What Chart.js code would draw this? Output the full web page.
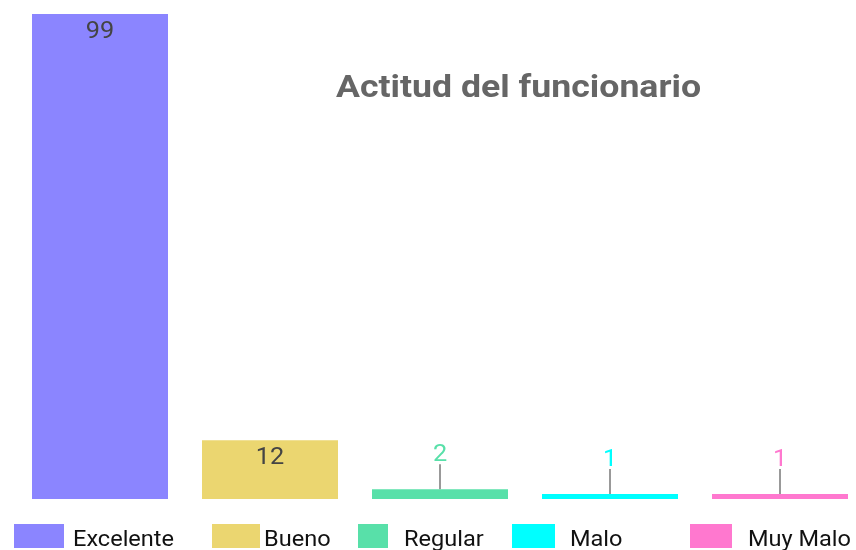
<!DOCTYPE html>
<html>
<head>
<meta charset="utf-8">
<script src="https://cdn.jsdelivr.net/npm/chart.js@4/dist/chart.umd.min.js"></script>
<style>
  html, body { margin: 0; padding: 0; overflow: hidden; background: #fff; width: 856px; height: 550px; }
  #wrap { position: absolute; left: 0; top: 0; width: 865px; height: 550px; }
  #legend { position: absolute; left: 0; top: 0; width: 856px; height: 550px; pointer-events: none; font-family: Roboto, sans-serif; overflow: hidden; }
  .lb { position: absolute; top: 524px; height: 24px; }
  .lt { position: absolute; top: 526px; font-size: 22px; line-height: 26px; color: #111; white-space: nowrap; transform: scaleX(1.07); transform-origin: left center; }
</style>
</head>
<body>
<div id="wrap"><canvas id="c" width="865" height="550"></canvas></div>
<div id="legend"></div>
<script>
const categories = ["Excelente", "Bueno", "Regular", "Malo", "Muy Malo"];
const values = [99, 12, 2, 1, 1];
const colors = ["#8b85ff", "#ebd670", "#58e0a9", "#00ffff", "#ff78cf"];
const chartTitle = "Actitud del funcionario";

// legend layout (box left, box width, text left)
const legendLayout = [
  [14, 50, 73],
  [212, 48, 264],
  [358, 30, 404],
  [512, 43, 570],
  [690, 42, 748]
];

const legendEl = document.getElementById('legend');
categories.forEach((name, i) => {
  const [bx, bw, tx] = legendLayout[i];
  const b = document.createElement('div');
  b.className = 'lb';
  b.style.left = bx + 'px';
  b.style.width = bw + 'px';
  b.style.background = colors[i];
  legendEl.appendChild(b);
  const t = document.createElement('div');
  t.className = 'lt';
  t.style.left = tx + 'px';
  t.textContent = name;
  legendEl.appendChild(t);
});

function stretchedText(ctx, txt, x, y, sx) {
  ctx.save();
  ctx.translate(x, y);
  ctx.scale(sx, 1);
  ctx.fillText(txt, 0, 0);
  ctx.restore();
}

const labelPlugin = {
  id: 'barLabels',
  afterDatasetsDraw(chart) {
    const ctx = chart.ctx;
    const meta = chart.getDatasetMeta(0);
    ctx.save();
    ctx.font = '23px Roboto, sans-serif';
    ctx.textAlign = 'center';
    ctx.textBaseline = 'middle';
    meta.data.forEach((bar, i) => {
      const h = bar.base - bar.y;
      const txt = String(values[i]);
      if (h > 30) {
        ctx.fillStyle = '#444444';
        stretchedText(ctx, txt, bar.x, bar.y + 18.5, 1.1);
      } else {
        ctx.strokeStyle = '#999999';
        ctx.lineWidth = 2;
        ctx.beginPath();
        ctx.moveTo(bar.x, bar.y);
        ctx.lineTo(bar.x, bar.y - 25);
        ctx.stroke();
        ctx.fillStyle = colors[i];
        stretchedText(ctx, txt, bar.x, bar.y - 34, 1.1);
      }
    });
    ctx.restore();
  }
};

const titlePlugin = {
  id: 'innerTitle',
  afterDraw(chart) {
    const ctx = chart.ctx;
    ctx.save();
    ctx.font = 'bold 31px Roboto, sans-serif';
    ctx.fillStyle = '#666666';
    ctx.textAlign = 'center';
    ctx.textBaseline = 'alphabetic';
    stretchedText(ctx, chartTitle, 518.5, 97, 1.15);
    ctx.restore();
  }
};

new Chart(document.getElementById('c'), {
  type: 'bar',
  data: {
    labels: categories,
    datasets: [{
      data: values,
      backgroundColor: colors,
      borderWidth: 0,
      categoryPercentage: 1.0,
      barPercentage: 0.8
    }]
  },
  options: {
    responsive: false,
    animation: false,
    layout: { padding: { left: 15, right: 0, top: 14, bottom: 51 } },
    plugins: { legend: { display: false }, title: { display: false }, tooltip: { enabled: false } },
    scales: {
      x: { display: false },
      y: { display: false, min: 0, max: 99 }
    }
  },
  plugins: [labelPlugin, titlePlugin]
});
</script>
</body>
</html>
